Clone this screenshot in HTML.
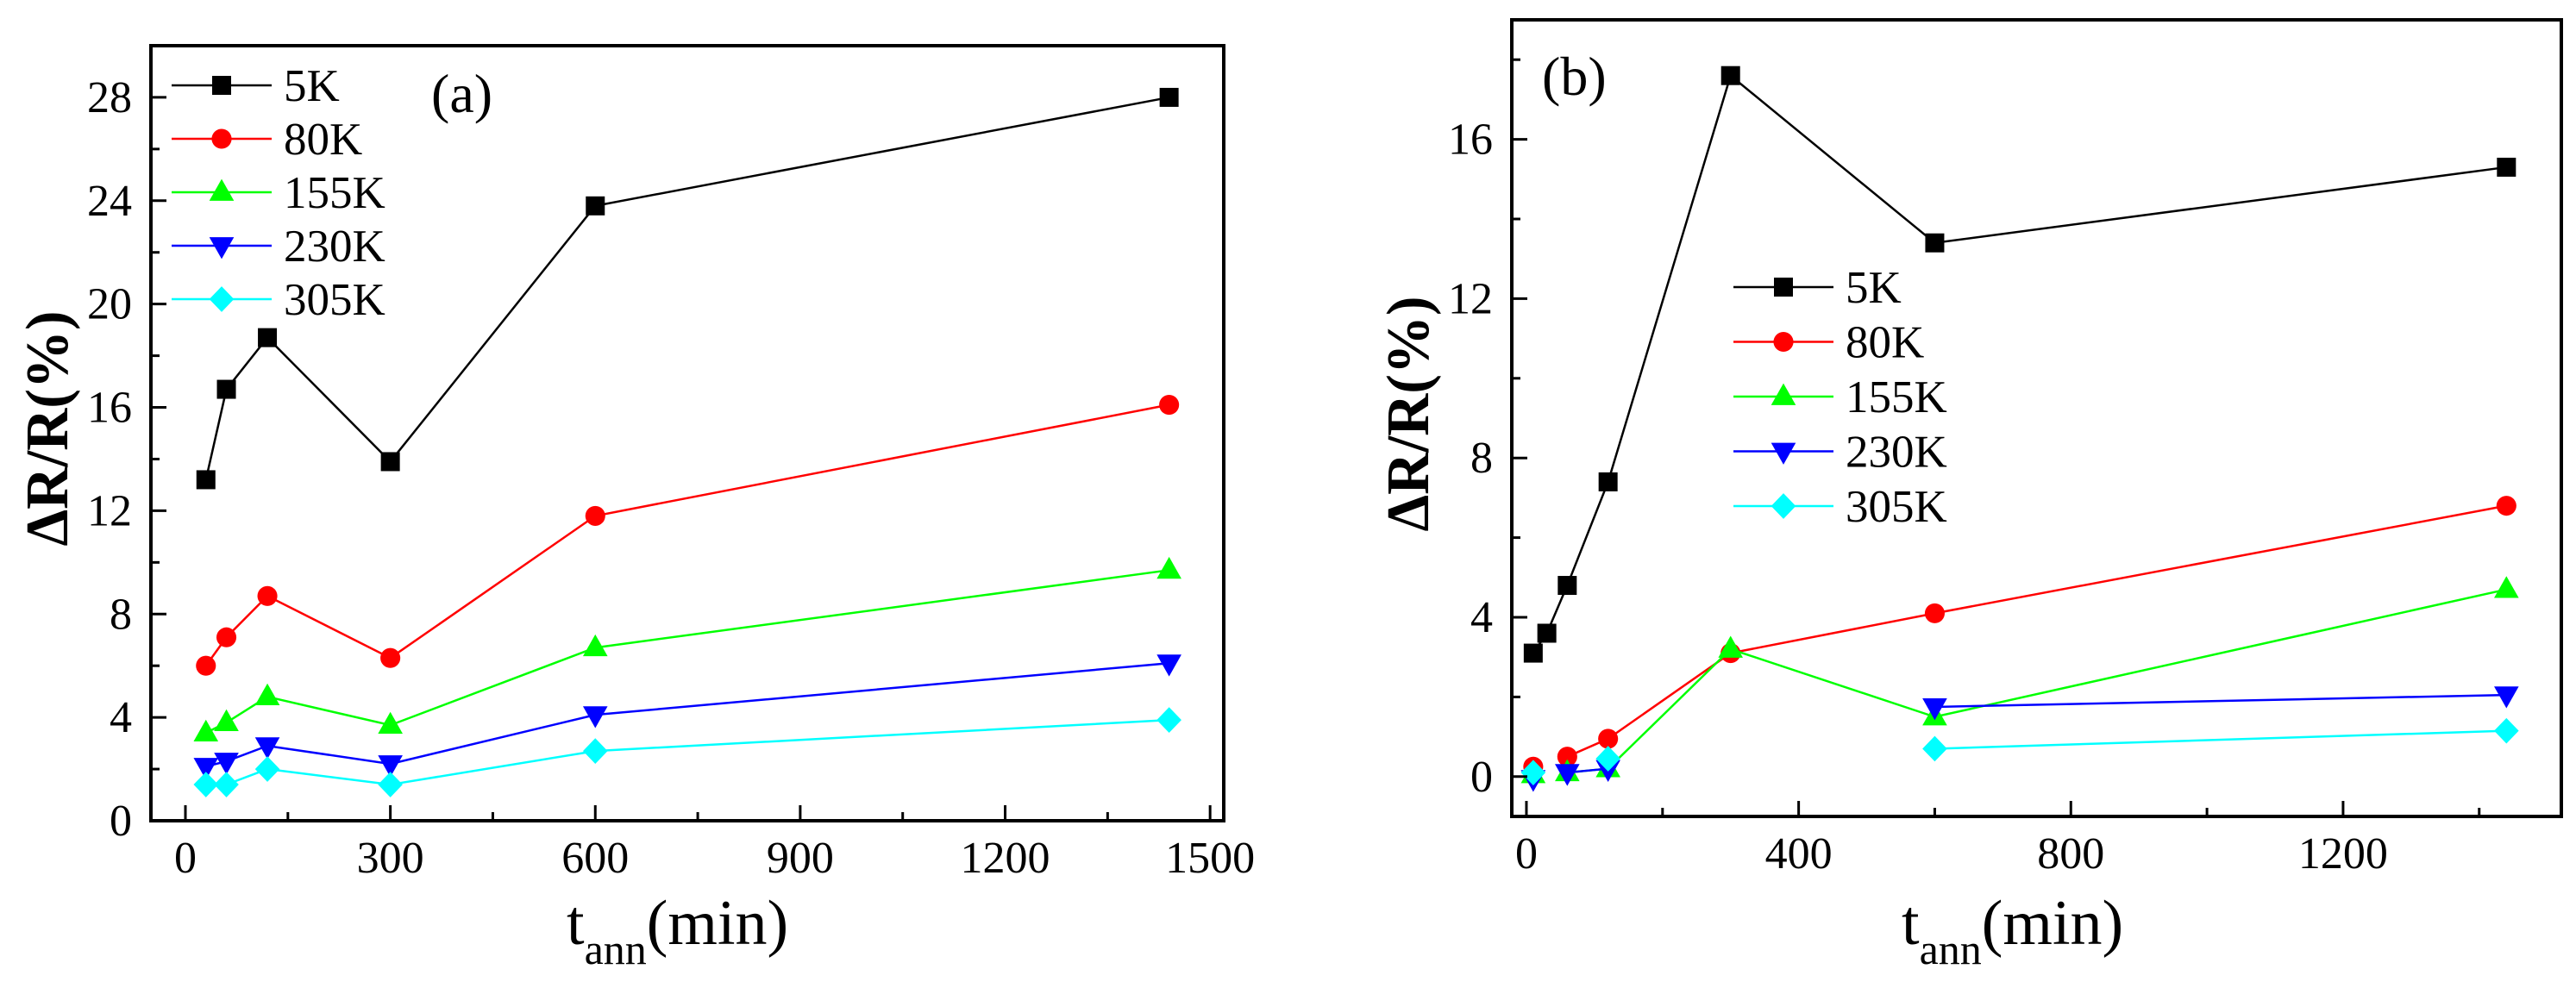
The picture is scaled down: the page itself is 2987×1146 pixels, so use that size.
<!DOCTYPE html>
<html><head><meta charset="utf-8"><style>
html,body{margin:0;padding:0;background:#fff;overflow:hidden;}
svg{display:block;font-family:"Liberation Serif",serif;}
text{font-family:"Liberation Serif",serif;}
</style></head><body>
<svg id="c" width="2987" height="1146" viewBox="0 0 2987 1146" xmlns="http://www.w3.org/2000/svg" font-family="Liberation Serif, serif"></svg>
<script>
const seriesNames = ["5K","80K","155K","230K","305K"];
const seriesColors = ["#000000","#ff0000","#00ff00","#0000ff","#00ffff"];
const markerShapes = ["square","circle","triangle-up","triangle-down","diamond"];
// panel a
const xA = [30,60,120,300,600,1440];
const a5K = [13.2,16.7,18.7,13.9,23.8,28.0];
const a80K = [6.0,7.1,8.7,6.3,11.8,16.1];
const a155K = [3.4,3.8,4.8,3.7,6.7,9.7];
const a230K = [2.1,2.3,2.9,2.2,4.1,6.1];
const a305K = [1.4,1.4,2.0,1.4,2.7,3.9];
const xTicksA = [0,300,600,900,1200,1500];
const yTicksA = [0,4,8,12,16,20,24,28];
// panel b
const xB = [10,30,60,120,300,600,1440];
const b5K = [3.1,3.6,4.8,7.4,17.6,13.4,15.3];
const b80K = [0.25,null,0.5,0.95,3.1,4.1,6.8];
const b155K = [0.05,null,0.1,0.2,3.2,1.5,4.7];
const b230K = [-0.05,null,0.1,0.2,null,1.75,2.05];
const b305K = [0.1,null,null,0.45,null,0.7,1.15];
const xTicksB = [0,400,800,1200];
const yTicksB = [0,4,8,12,16];

const NS="http://www.w3.org/2000/svg";
const svg=document.getElementById('c');
function mk(tag,attrs,parent){const e=document.createElementNS(NS,tag);for(const k in attrs)e.setAttribute(k,attrs[k]);if(tag==='text')e.setAttribute('font-family','Liberation Serif, serif');(parent||svg).appendChild(e);return e;}

function marker(g,shape,cx,cy,color,s){
  let e;
  if(shape==="square") e=mk('rect',{x:cx-s,y:cy-s,width:2*s,height:2*s,fill:color},g);
  else if(shape==="circle") e=mk('circle',{cx:cx,cy:cy,r:s*1.05,fill:color},g);
  else if(shape==="triangle-up") e=mk('polygon',{points:`${cx},${cy-s*1.4} ${cx-s*1.3},${cy+s*0.9} ${cx+s*1.3},${cy+s*0.9}`,fill:color},g);
  else if(shape==="triangle-down") e=mk('polygon',{points:`${cx},${cy+s*1.4} ${cx-s*1.3},${cy-s*0.9} ${cx+s*1.3},${cy-s*0.9}`,fill:color},g);
  else e=mk('polygon',{points:`${cx},${cy-s*1.35} ${cx+s*1.3},${cy} ${cx},${cy+s*1.35} ${cx-s*1.3},${cy}`,fill:color},g);
  
  
}

function panel(opt){
  const g=mk('g',{});
  
  
  const {L,R,T,B,x0,x1,y0,y1}=opt;
  const sx=v=>L+(v-x0)/(x1-x0)*(R-L);
  const sy=v=>B-(v-y0)/(y1-y0)*(B-T);
  opt.series.forEach((vals,si)=>{
    const sg=mk('g',{},g);
    
    
    let seg=[];
    const flush=()=>{if(seg.length>1){const p=mk('polyline',{points:seg.join(' '),fill:'none',stroke:seriesColors[si],'stroke-width':2.5},sg);}seg=[];};
    vals.forEach((v,i)=>{if(v===null){flush();return;}seg.push(sx(opt.xs[i])+','+sy(v));});
    flush();
    vals.forEach((v,i)=>{if(v!==null)marker(sg,markerShapes[si],sx(opt.xs[i]),sy(v),seriesColors[si],11);});
  });
  const fr=mk('rect',{x:L,y:T,width:R-L,height:B-T,fill:'none',stroke:'#000','stroke-width':4},g);
  
  
  const xstep=opt.xt[1]-opt.xt[0];
  opt.xt.forEach(v=>{
    mk('line',{x1:sx(v),y1:B,x2:sx(v),y2:B-18,stroke:'#000','stroke-width':3},g);
    const m=v+xstep/2; if(m<x1) mk('line',{x1:sx(m),y1:B,x2:sx(m),y2:B-10,stroke:'#000','stroke-width':3},g);
    const t=mk('text',{x:sx(v),y:B+60,'text-anchor':'middle','font-size':52},g);
    t.textContent=v;
    
    
  });
  const ystep=opt.yt[1]-opt.yt[0];
  opt.yt.forEach(v=>{
    mk('line',{x1:L,y1:sy(v),x2:L+18,y2:sy(v),stroke:'#000','stroke-width':3},g);
    const m=v+ystep/2; if(m<y1) mk('line',{x1:L,y1:sy(m),x2:L+10,y2:sy(m),stroke:'#000','stroke-width':3},g);
    const t=mk('text',{x:L-22,y:sy(v)+17,'text-anchor':'end','font-size':52},g);
    t.textContent=v;
    
    
  });
  const yt=mk('text',{x:0,y:0,transform:`translate(${opt.ytx},${opt.yty}) rotate(-90)`,'text-anchor':'middle','font-size':70,'font-weight':'bold',textLength:273,lengthAdjust:'spacingAndGlyphs'},g);
  yt.textContent='ΔR/R(%)';
  
  
  const xt=mk('text',{x:opt.xtx,y:1095,'font-size':74},g);
  
  
  const t1=mk('tspan',{},xt);t1.textContent='t';
  const t2=mk('tspan',{'font-size':50,dy:23},xt);t2.textContent='ann';
  const t3=mk('tspan',{dy:-23},xt);t3.textContent='(min)';
  const pl=mk('text',{x:opt.plx,y:opt.ply,'font-size':64},g);
  pl.textContent=opt.label;
  
  
  const lg=mk('g',{},g);
  
  
  seriesNames.forEach((n,i)=>{
    const y=opt.lgy+i*opt.lgdy;
    const eg=mk('g',{},lg);
    
    
    mk('line',{x1:opt.lgx,y1:y,x2:opt.lgx+116,y2:y,stroke:seriesColors[i],'stroke-width':2.5},eg);
    marker(eg,markerShapes[i],opt.lgx+58,y,seriesColors[i],11);
    const t=mk('text',{x:opt.lgx+130,y:y+18,'font-size':53},eg);
    t.textContent=n;
  });
}

panel({name:'panel-a',L:175,R:1419,T:53,B:952,x0:-50.5,x1:1520,y0:0,y1:30,
  xs:xA,series:[a5K,a80K,a155K,a230K,a305K],xt:xTicksA,yt:yTicksA,
  ytx:78,yty:497,xtx:657,plx:500,ply:130,label:'(a)',lgx:199,lgy:99,lgdy:62});
panel({name:'panel-b',L:1753,R:2970,T:23,B:947,x0:-21.5,x1:1520.7,y0:-1,y1:19,
  xs:xB,series:[b5K,b80K,b155K,b230K,b305K],xt:xTicksB,yt:yTicksB,
  ytx:1656,yty:480,xtx:2205,plx:1788,ply:110,label:'(b)',lgx:2010,lgy:333,lgdy:63.5});
</script>
</body></html>
